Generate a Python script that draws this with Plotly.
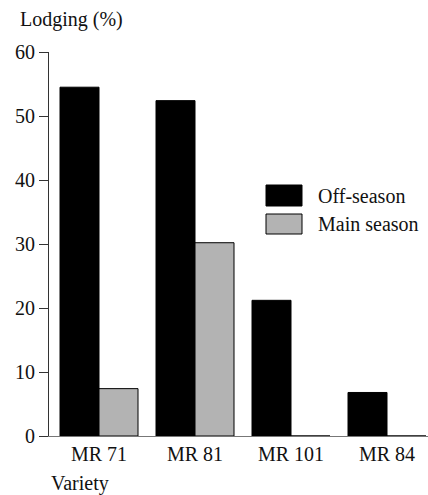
import plotly.graph_objects as go

varieties = ["MR 71", "MR 81", "MR 101", "MR 84"]
off_season = [54.5, 52.4, 21.2, 6.8]
main_season = [7.4, 30.2, 0, 0]
y_ticks = [0, 10, 20, 30, 40, 50, 60]
series_names = ["Off-season", "Main season"]
colors = ["#000000", "#b3b3b3"]

FONT = "Liberation Serif"

fig = go.Figure()
fig.add_trace(go.Bar(x=varieties, y=off_season, name=series_names[0],
                     marker=dict(color=colors[0], line=dict(color="#000000", width=1))))
fig.add_trace(go.Bar(x=varieties, y=main_season, name=series_names[1],
                     marker=dict(color=colors[1], line=dict(color="#000000", width=1))))

W, H = 428, 495
ml, mr, mt, mb = 49, 0, 52, 59
pw = W - ml - mr
px_per_cat = 96
x0 = -(99 - ml) / px_per_cat
x1 = x0 + pw / px_per_cat

fig.update_layout(
    width=W, height=H,
    margin=dict(l=ml, r=mr, t=mt, b=mb, pad=0),
    paper_bgcolor="white", plot_bgcolor="white",
    barmode="group", bargap=0.1875, bargroupgap=0,
    showlegend=False,
    font=dict(family=FONT, size=20, color="#111111"),
    xaxis=dict(range=[x0, x1], showline=True, linecolor="#777777", linewidth=1,
               ticks="", showgrid=False, zeroline=False,
               tickfont=dict(family=FONT, size=20, color="#111111")),
    yaxis=dict(range=[0, 60], tickvals=y_ticks, showline=True, linecolor="#333333",
               linewidth=1, ticks="outside", ticklen=9, tickcolor="#333333",
               showgrid=False, zeroline=False,
               tickfont=dict(family=FONT, size=20, color="#111111")),
)

ph = H - mt - mb
def px_x(x):
    return (x - ml) / pw
def px_y(y):
    return 1 - (y - mt) / ph

# Axis titles placed like the reference
fig.add_annotation(text="Lodging (%)", xref="paper", yref="paper",
                   x=px_x(18), y=px_y(19),
                   xanchor="left", yanchor="middle", showarrow=False,
                   font=dict(family=FONT, size=20, color="#111111"))
fig.add_annotation(text="Variety", xref="paper", yref="paper",
                   x=px_x(49), y=px_y(483),
                   xanchor="left", yanchor="middle", showarrow=False,
                   font=dict(family=FONT, size=20, color="#111111"))

# Custom legend with large swatches
legend_rows = [(185, 206), (214, 234)]
for (ytop, ybot), name, col in zip(legend_rows, series_names, colors):
    fig.add_shape(type="rect", xref="paper", yref="paper",
                  x0=px_x(266), x1=px_x(302), y0=px_y(ybot), y1=px_y(ytop),
                  fillcolor=col, line=dict(color="#000000", width=1))
    fig.add_annotation(text=name, xref="paper", yref="paper",
                       x=px_x(316), y=px_y((ytop + ybot) / 2),
                       xanchor="left", yanchor="middle", showarrow=False,
                       font=dict(family=FONT, size=20, color="#111111"))

fig.write_html("out.html", config={"displayModeBar": False},
               post_script="document.body.style.margin='0px';")
